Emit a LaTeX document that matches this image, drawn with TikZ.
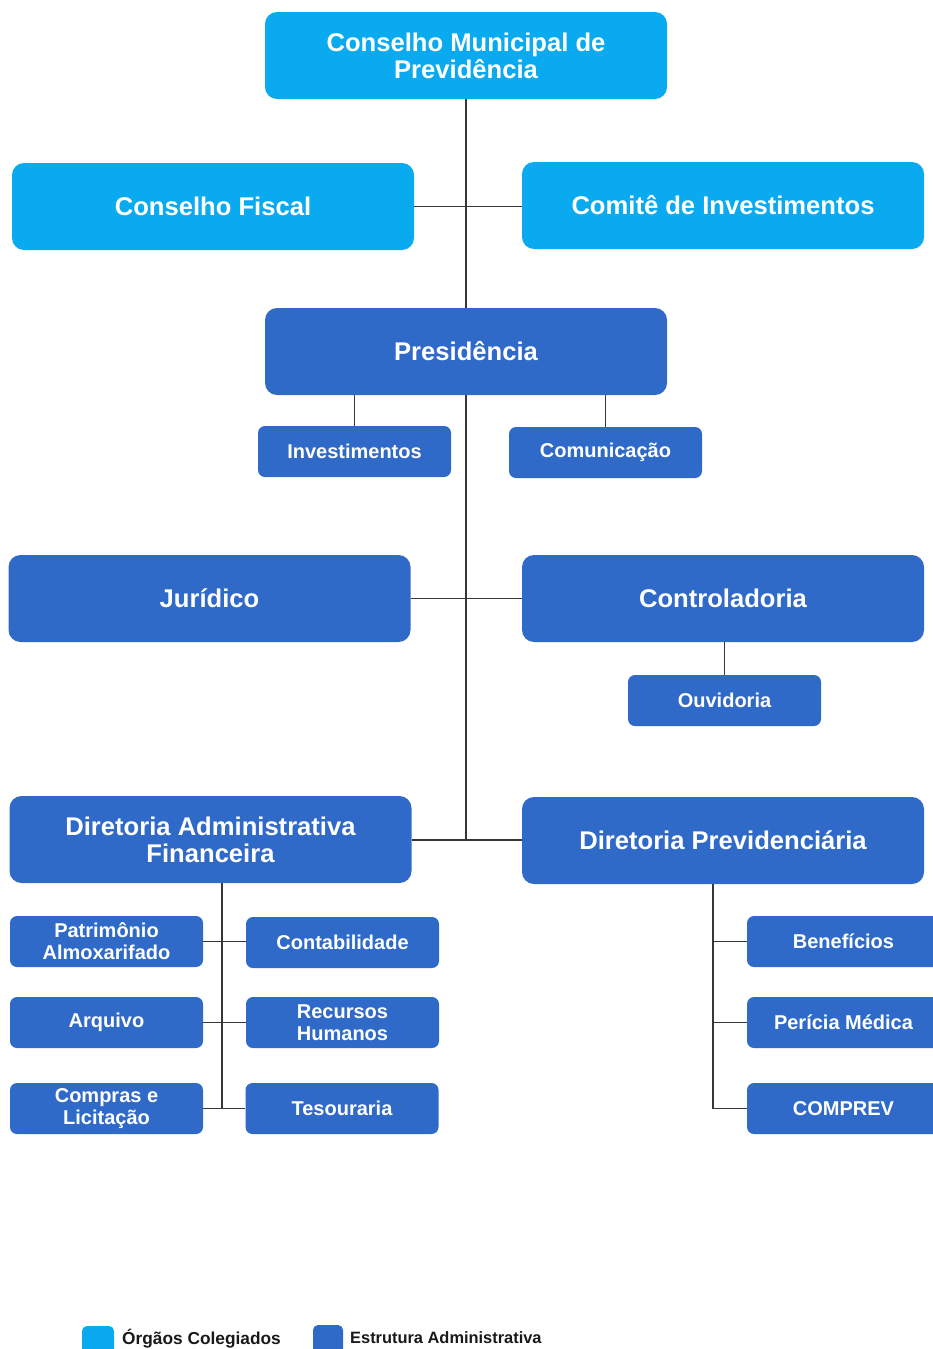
\documentclass[tikz,border=0pt]{standalone}
\usepackage{fontspec}
\setmainfont{Liberation Sans}
\definecolor{lightb}{RGB}{10,170,240}
\definecolor{darkb}{RGB}{48,106,200}
\definecolor{linec}{RGB}{55,55,55}
\begin{document}
\begin{tikzpicture}[x=1pt,y=-1pt,
  box/.style={rounded corners=12pt, inner sep=0pt, text=white, align=center,
    font=\bfseries\fontsize{25.6}{27}\selectfont, minimum width=402pt, minimum height=87pt},
  boxL/.style={box, fill=lightb},
  boxD/.style={box, fill=darkb},
  small/.style={rounded corners=7pt, inner sep=0pt, text=white, align=center, fill=darkb,
    font=\bfseries\fontsize{20}{22}\selectfont, minimum width=193pt, minimum height=51pt},
  conn/.style={draw=linec, line width=1.5pt},
  legtxt/.style={font=\bfseries\fontsize{16.8}{18}\selectfont, anchor=west, inner sep=0pt, text=black!90}
]
\fill[white] (0,0) rectangle (932,1349);
\useasboundingbox (0,0) rectangle (932,1349);

\coordinate (jc) at (466,840);
\coordinate (ta) at (222,883);
\coordinate (tp) at (713,884);

\node[boxL] (cmp) at (466,55.5) {Conselho Municipal de\\Previdência};
\node[boxL] (cf) at (213,206.5) {Conselho Fiscal};
\node[boxL] (ci) at (723,205.5) {Comitê de Investimentos};
\node[boxD] (pres) at (466,351.5) {Presidência};
\node[small] (inv) at (354.5,451.5) {Investimentos};
\node[small] (com) at (605.5,452.5) {Comunicação};
\node[boxD] (jur) at (209.5,598.5) {Jurídico};
\node[boxD] (ctrl) at (723,598.5) {Controladoria};
\node[small] (ouv) at (724.5,700.5) {Ouvidoria};
\node[boxD] (dadm) at (210.5,839.5) {Diretoria Administrativa\\Financeira};
\node[boxD] (dprev) at (723,840.5) {Diretoria Previdenciária};

\node[small] (pat) at (106.5,941.5) {Patrimônio\\Almoxarifado};
\node[small] (cont) at (342.5,942.5) {Contabilidade};
\node[small] (arq) at (106.5,1022.5) {Arquivo};
\node[small] (rh) at (342.5,1022.5) {Recursos\\Humanos};
\node[small] (comp) at (106.5,1108.5) {Compras e\\Licitação};
\node[small] (tes) at (342,1108.5) {Tesouraria};

\node[small] (ben) at (843.5,941.5) {Benefícios};
\node[small] (per) at (843.5,1022.5) {Perícia Médica};
\node[small] (cpv) at (843.5,1108.5) {COMPREV};

\draw[conn] (cmp.south) -- (pres.north);
\draw[conn] (pres.south) -- (jc);
\draw[conn] (cf.east) -- (cf.east -| ci.west);
\draw[conn] (jur.east) -- (ctrl.west);
\draw[conn] (jc -| dadm.east) -- (jc -| dprev.west);
\draw[conn] (inv.north) -- (inv.north |- pres.south);
\draw[conn] (com.north) -- (com.north |- pres.south);
\draw[conn] (ouv.north) -- (ouv.north |- ctrl.south);

\draw[conn] (ta) -- (ta |- comp.east);
\draw[conn] (pat.east) -- (pat.east -| cont.west);
\draw[conn] (arq.east) -- (rh.west);
\draw[conn] (comp.east) -- (tes.west);

\draw[conn] (tp) -- (tp |- cpv.west) -- (cpv.west);
\draw[conn] (tp |- ben.west) -- (ben.west);
\draw[conn] (tp |- per.west) -- (per.west);

% legend
\fill[lightb, rounded corners=5pt] (82,1326) rectangle (114,1362);
\node[legtxt, font=\bfseries\fontsize{17.3}{18}\selectfont] (l1) at (122,1339) {Órgãos Colegiados};
\fill[darkb, rounded corners=5pt] (313,1325) rectangle (343,1362);
\node[legtxt, font=\bfseries\fontsize{16.4}{18}\selectfont] (l2) at (350,1338) {Estrutura Administrativa};
\end{tikzpicture}
\end{document}
